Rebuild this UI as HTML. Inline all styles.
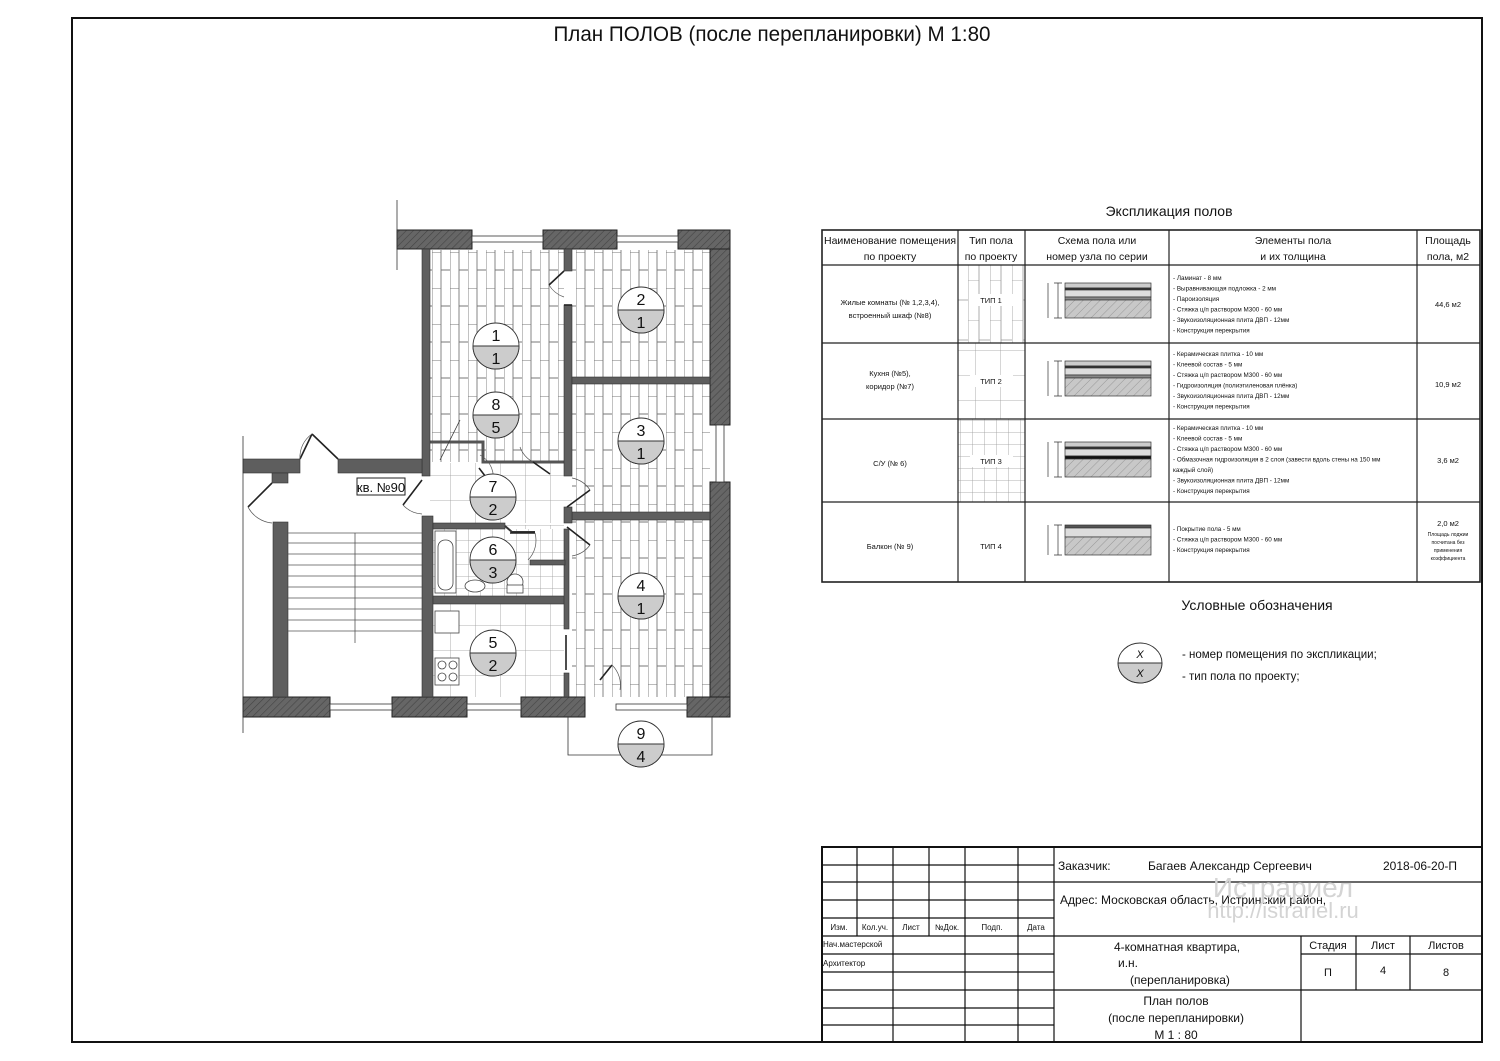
<!DOCTYPE html>
<html><head><meta charset="utf-8"><style>
html,body{margin:0;padding:0;background:#fff}
svg{display:block}
text{font-family:"Liberation Sans",sans-serif;fill:#111}
</style></head><body>
<svg width="1500" height="1061" viewBox="0 0 1500 1061" xmlns="http://www.w3.org/2000/svg">
<defs>
<pattern id="plank" width="18" height="36" patternUnits="userSpaceOnUse">
<rect width="18" height="36" fill="#fff"/>
<path d="M0 0V36M9 0V36M0 0H9M9 18H18" stroke="#777" stroke-width="0.9"/>
</pattern>
<pattern id="tile" width="25" height="25" patternUnits="userSpaceOnUse">
<rect width="25" height="25" fill="#fff"/>
<path d="M0 0H25M0 0V25" stroke="#999" stroke-width="0.8"/>
</pattern>
<pattern id="tiles" width="12" height="12" patternUnits="userSpaceOnUse">
<rect width="12" height="12" fill="#fff"/>
<path d="M0 0H12M0 0V12" stroke="#999" stroke-width="0.8"/>
</pattern>
<pattern id="hatch" width="5" height="5" patternUnits="userSpaceOnUse" patternTransform="rotate(45)">
<rect width="5" height="5" fill="#666"/>
<path d="M0 0V5" stroke="#444" stroke-width="1.2"/>
</pattern>
<pattern id="hatch2" width="6" height="6" patternUnits="userSpaceOnUse" patternTransform="rotate(45)">
<rect width="6" height="6" fill="#c8c8c8"/>
<path d="M0 0V6" stroke="#777" stroke-width="0.6"/>
</pattern>
<pattern id="bplank" width="22" height="40" patternUnits="userSpaceOnUse">
<path d="M0 0V40M11 0V40M0 0H11M11 20H22" stroke="#999" stroke-width="0.8"/>
</pattern>
</defs>

<rect x="72" y="18" width="1410" height="1024" fill="none" stroke="#111" stroke-width="2"/>
<text x="772" y="41" font-size="21" text-anchor="middle" textLength="437" lengthAdjust="spacingAndGlyphs">План ПОЛОВ (после перепланировки) М 1:80</text>

<rect x="430" y="250" width="134" height="212" fill="url(#plank)"/>
<rect x="572" y="250" width="138" height="127" fill="url(#plank)"/>
<rect x="572" y="384" width="138" height="128" fill="url(#plank)"/>
<rect x="572" y="520" width="138" height="177" fill="url(#plank)"/>
<rect x="430" y="463" width="142" height="60" fill="url(#tile)"/>
<rect x="505" y="525" width="59" height="70" fill="url(#tile)"/>
<rect x="433" y="529" width="131" height="67" fill="url(#tiles)"/>
<rect x="433" y="604" width="131" height="93" fill="url(#tile)"/>
<rect x="430" y="442" width="52" height="20" fill="url(#plank)"/>
<path d="M430 442H483V462H564" fill="none" stroke="#555" stroke-width="3"/>
<path d="M440 460L460 420" stroke="#333" stroke-width="0.8"/>

<g stroke="#222" stroke-width="1">
<rect x="397" y="230" width="75" height="19" fill="url(#hatch)"/>
<rect x="543" y="230" width="74" height="19" fill="url(#hatch)"/>
<rect x="678" y="230" width="52" height="19" fill="url(#hatch)"/>
<rect x="710" y="249" width="20" height="176" fill="url(#hatch)"/>
<rect x="710" y="482" width="20" height="215" fill="url(#hatch)"/>
<rect x="243" y="697" width="87" height="20" fill="url(#hatch)"/>
<rect x="392" y="697" width="75" height="20" fill="url(#hatch)"/>
<rect x="521" y="697" width="64" height="20" fill="url(#hatch)"/>
<rect x="687" y="697" width="43" height="20" fill="url(#hatch)"/>
</g>
<g fill="#fff" stroke="#333" stroke-width="0.8">
<rect x="472" y="236" width="71" height="6"/>
<rect x="617" y="236" width="61" height="6"/>
<rect x="716" y="425" width="8" height="57"/>
<rect x="330" y="704" width="62" height="6"/>
<rect x="467" y="704" width="54" height="6"/>
<rect x="616" y="704" width="71" height="6"/>
</g>
<g fill="#5e5e5e" stroke="#333" stroke-width="0.6">
<rect x="422" y="249" width="8" height="227"/>
<rect x="422" y="516" width="11" height="181"/>
<rect x="243" y="459" width="57" height="14"/>
<rect x="338" y="459" width="84" height="14"/>
<rect x="272" y="473" width="16" height="10"/>
<rect x="273" y="522" width="15" height="175"/>
<rect x="564" y="249" width="8" height="22"/>
<rect x="564" y="305" width="8" height="171"/>
<rect x="572" y="377" width="138" height="7"/>
<rect x="572" y="512" width="138" height="8"/>
<rect x="564" y="507" width="8" height="16"/>
<rect x="433" y="523" width="72" height="6"/>
<rect x="433" y="596" width="135" height="8"/>
<rect x="564" y="529" width="5" height="100"/>
<rect x="564" y="673" width="5" height="24"/>
<rect x="530" y="560" width="35" height="5"/>
</g>
<path d="M505 526L512 532H535" stroke="#333" stroke-width="2" fill="none"/>
<g stroke="#555" stroke-width="0.8">
<path d="M288 533H422M288 543H422M288 554H422M288 565H422M288 576H422M288 587H422M288 598H422M288 609H422M288 620H422M288 631H422"/>
<path d="M355 533V643"/>
</g>
<path d="M397 200V270M243 436V733" stroke="#333" stroke-width="0.8"/>
<path d="M568 717V755H712V717" fill="none" stroke="#333" stroke-width="0.8"/>
<g fill="none" stroke="#222" stroke-width="1.6">
<path d="M300 459L312 434"/><path d="M338 459L312 434"/>
<path d="M272 483L248 507"/>
<path d="M422 480L403 505"/>
<path d="M564 271L549 285"/>
<path d="M564 305L572 305"/>
<path d="M479 468L492 485"/>
<path d="M533 462L550 474"/>
<path d="M567 507L590 490"/>
<path d="M567 527L590 545"/>
<path d="M600 680L612 665"/>
<path d="M566 635V670"/>
<path d="M510 533H535"/>
</g>
<g fill="none" stroke="#555" stroke-width="0.7">
<path d="M312 434A28 28 0 0 0 300 459"/>
<path d="M248 507A30 30 0 0 0 272 523"/>
<path d="M403 505A28 28 0 0 0 422 514"/>
<path d="M549 285A28 28 0 0 0 564 297"/>
<path d="M492 485A25 25 0 0 0 480 455"/>
<path d="M533 462A28 28 0 0 1 520 447"/>
<path d="M590 490A28 28 0 0 0 572 478"/>
<path d="M590 545A28 28 0 0 1 572 556"/>
<path d="M612 665A28 28 0 0 1 620 690"/>
<path d="M535 533A28 28 0 0 1 528 560"/>
</g>
<g fill="#fff" stroke="#444" stroke-width="0.8">
<rect x="435" y="531" width="21" height="62"/>
<rect x="438" y="540" width="15" height="50" rx="7"/>
<ellipse cx="475" cy="586" rx="10" ry="6"/>
<ellipse cx="515" cy="582" rx="8" ry="8"/>
<rect x="507" y="585" width="16" height="8"/>
<rect x="435" y="611" width="24" height="22"/>
<rect x="435" y="658" width="24" height="27"/>
<circle cx="442" cy="665" r="4"/><circle cx="453" cy="665" r="4"/><circle cx="442" cy="677" r="4"/><circle cx="453" cy="677" r="4"/>
</g>
<rect x="357" y="478" width="48" height="17" fill="#fff" stroke="#222" stroke-width="1"/>
<text x="381" y="492" font-size="13" text-anchor="middle">кв. №90</text>

<g stroke="#333" stroke-width="0.9" font-size="16">
<g transform="translate(496,346)"><ellipse rx="23" ry="23" fill="#fff"/><path d="M-23 0A23 23 0 0 0 23 0Z" fill="#ccc"/><path d="M-23 0H23"/><text y="-5" text-anchor="middle" stroke="none">1</text><text y="18" text-anchor="middle" stroke="none">1</text></g>
<g transform="translate(641,310)"><ellipse rx="23" ry="23" fill="#fff"/><path d="M-23 0A23 23 0 0 0 23 0Z" fill="#ccc"/><path d="M-23 0H23"/><text y="-5" text-anchor="middle" stroke="none">2</text><text y="18" text-anchor="middle" stroke="none">1</text></g>
<g transform="translate(496,415)"><ellipse rx="23" ry="23" fill="#fff"/><path d="M-23 0A23 23 0 0 0 23 0Z" fill="#ccc"/><path d="M-23 0H23"/><text y="-5" text-anchor="middle" stroke="none">8</text><text y="18" text-anchor="middle" stroke="none">5</text></g>
<g transform="translate(641,441)"><ellipse rx="23" ry="23" fill="#fff"/><path d="M-23 0A23 23 0 0 0 23 0Z" fill="#ccc"/><path d="M-23 0H23"/><text y="-5" text-anchor="middle" stroke="none">3</text><text y="18" text-anchor="middle" stroke="none">1</text></g>
<g transform="translate(493,497)"><ellipse rx="23" ry="23" fill="#fff"/><path d="M-23 0A23 23 0 0 0 23 0Z" fill="#ccc"/><path d="M-23 0H23"/><text y="-5" text-anchor="middle" stroke="none">7</text><text y="18" text-anchor="middle" stroke="none">2</text></g>
<g transform="translate(493,560)"><ellipse rx="23" ry="23" fill="#fff"/><path d="M-23 0A23 23 0 0 0 23 0Z" fill="#ccc"/><path d="M-23 0H23"/><text y="-5" text-anchor="middle" stroke="none">6</text><text y="18" text-anchor="middle" stroke="none">3</text></g>
<g transform="translate(641,596)"><ellipse rx="23" ry="23" fill="#fff"/><path d="M-23 0A23 23 0 0 0 23 0Z" fill="#ccc"/><path d="M-23 0H23"/><text y="-5" text-anchor="middle" stroke="none">4</text><text y="18" text-anchor="middle" stroke="none">1</text></g>
<g transform="translate(493,653)"><ellipse rx="23" ry="23" fill="#fff"/><path d="M-23 0A23 23 0 0 0 23 0Z" fill="#ccc"/><path d="M-23 0H23"/><text y="-5" text-anchor="middle" stroke="none">5</text><text y="18" text-anchor="middle" stroke="none">2</text></g>
<g transform="translate(641,744)"><ellipse rx="23" ry="23" fill="#fff"/><path d="M-23 0A23 23 0 0 0 23 0Z" fill="#ccc"/><path d="M-23 0H23"/><text y="-5" text-anchor="middle" stroke="none">9</text><text y="18" text-anchor="middle" stroke="none">4</text></g>
</g>

<text x="1169" y="216" font-size="14" text-anchor="middle">Экспликация полов</text>
<rect x="958" y="265" width="67" height="78" fill="url(#bplank)"/>
<rect x="958" y="343" width="67" height="76" fill="url(#tile)"/>
<rect x="958" y="419" width="67" height="83" fill="url(#tiles)"/>
<g fill="#fff"><rect x="970" y="294" width="43" height="12"/><rect x="970" y="375" width="43" height="12"/><rect x="970" y="455" width="43" height="12"/></g>
<g fill="none" stroke="#222" stroke-width="1.2">
<rect x="822" y="230" width="658" height="352" stroke-width="1.6"/>
<path d="M958 230V582M1025 230V582M1169 230V582M1417 230V582"/>
<path d="M822 265H1480M822 343H1480M822 419H1480M822 502H1480"/>
</g>
<g font-size="10.5" text-anchor="middle">
<text x="890" y="244">Наименование помещения</text><text x="890" y="260">по проекту</text>
<text x="991" y="244">Тип пола</text><text x="991" y="260">по проекту</text>
<text x="1097" y="244">Схема пола или</text><text x="1097" y="260">номер узла по серии</text>
<text x="1293" y="244">Элементы пола</text><text x="1293" y="260">и их толщина</text>
<text x="1448" y="244">Площадь</text><text x="1448" y="260">пола, м2</text>
</g>
<g font-size="7.5" text-anchor="middle">
<text x="890" y="305">Жилые комнаты (№ 1,2,3,4),</text><text x="890" y="318">встроенный шкаф (№8)</text>
<text x="890" y="376">Кухня (№5),</text><text x="890" y="389">коридор (№7)</text>
<text x="890" y="466">С/У (№ 6)</text>
<text x="890" y="549">Балкон (№ 9)</text>
<text x="991" y="303">ТИП 1</text><text x="991" y="384">ТИП 2</text><text x="991" y="464">ТИП 3</text><text x="991" y="549">ТИП 4</text>
<text x="1448" y="307">44,6 м2</text><text x="1448" y="387">10,9 м2</text><text x="1448" y="463">3,6 м2</text>
<text x="1448" y="526">2,0 м2</text>
</g>
<g font-size="5" text-anchor="middle"><text x="1448" y="536">Площадь лоджии</text><text x="1448" y="544">посчитана без</text><text x="1448" y="552">применения</text><text x="1448" y="560">коэффициента</text></g>
<g font-size="6.3">
<text x="1173" y="280">- Ламинат - 8 мм</text><text x="1173" y="290.5">- Выравнивающая подложка - 2 мм</text><text x="1173" y="301">- Пароизоляция</text><text x="1173" y="311.5">- Стяжка ц/п раствором М300 - 60 мм</text><text x="1173" y="322">- Звукоизоляционная плита ДВП - 12мм</text><text x="1173" y="332.5">- Конструкция перекрытия</text>
<text x="1173" y="356">- Керамическая плитка - 10 мм</text><text x="1173" y="366.5">- Клеевой состав - 5 мм</text><text x="1173" y="377">- Стяжка ц/п раствором М300 - 60 мм</text><text x="1173" y="387.5">- Гидроизоляция (полиэтиленовая плёнка)</text><text x="1173" y="398">- Звукоизоляционная плита ДВП - 12мм</text><text x="1173" y="408.5">- Конструкция перекрытия</text>
<text x="1173" y="430">- Керамическая плитка - 10 мм</text><text x="1173" y="440.5">- Клеевой состав - 5 мм</text><text x="1173" y="451">- Стяжка ц/п раствором М300 - 60 мм</text><text x="1173" y="461.5">- Обмазочная гидроизоляция в 2 слоя (завести вдоль стены на 150 мм</text><text x="1173" y="472">каждый слой)</text><text x="1173" y="482.5">- Звукоизоляционная плита ДВП - 12мм</text><text x="1173" y="493">- Конструкция перекрытия</text>
<text x="1173" y="531">- Покрытие пола - 5 мм</text><text x="1173" y="541.5">- Стяжка ц/п раствором М300 - 60 мм</text><text x="1173" y="552">- Конструкция перекрытия</text>
</g>
<g stroke="#333" stroke-width="0.7">
<g>
<rect x="1065" y="283" width="86" height="5" fill="#ccc"/><rect x="1065" y="288" width="86" height="2" fill="#333"/><rect x="1065" y="290" width="86" height="7" fill="#ddd"/><rect x="1065" y="297" width="86" height="3" fill="#888"/><rect x="1065" y="300" width="86" height="18" fill="url(#hatch2)"/>
<path d="M1058 283V318M1054 283H1062M1054 318H1062M1048 283V318"/>
</g>
<g transform="translate(0,78)">
<rect x="1065" y="283" width="86" height="5" fill="#ccc"/><rect x="1065" y="288" width="86" height="2" fill="#333"/><rect x="1065" y="290" width="86" height="7" fill="#ddd"/><rect x="1065" y="297" width="86" height="3" fill="#888"/><rect x="1065" y="300" width="86" height="18" fill="url(#hatch2)"/>
<path d="M1058 283V318M1054 283H1062M1054 318H1062M1048 283V318"/>
</g>
<g transform="translate(0,159)">
<rect x="1065" y="283" width="86" height="5" fill="#ccc"/><rect x="1065" y="288" width="86" height="2" fill="#333"/><rect x="1065" y="290" width="86" height="7" fill="#ddd"/><rect x="1065" y="297" width="86" height="3" fill="#111"/><rect x="1065" y="300" width="86" height="18" fill="url(#hatch2)"/>
<path d="M1058 283V318M1054 283H1062M1054 318H1062M1048 283V318"/>
</g>
<rect x="1065" y="525" width="86" height="3" fill="#555"/><rect x="1065" y="528" width="86" height="9" fill="#ddd"/><rect x="1065" y="537" width="86" height="18" fill="url(#hatch2)"/>
<path d="M1058 525V555M1054 525H1062M1054 555H1062M1048 525V555"/>
</g>

<text x="1257" y="610" font-size="14" text-anchor="middle">Условные обозначения</text>
<g transform="translate(1140,663)" stroke="#333" stroke-width="0.9"><ellipse rx="22" ry="20" fill="#fff"/><path d="M-22 0A22 20 0 0 0 22 0Z" fill="#ccc"/><path d="M-22 0H22"/><text y="-5" font-size="11" text-anchor="middle" stroke="none" font-style="italic">X</text><text y="14" font-size="11" text-anchor="middle" stroke="none" font-style="italic">X</text></g>
<text x="1182" y="658" font-size="11.5">- номер помещения по экспликации;</text>
<text x="1182" y="680" font-size="11.5">- тип пола по проекту;</text>

<g fill="none" stroke="#111" stroke-width="1.2">
<rect x="822" y="847" width="660" height="195" stroke-width="2"/>
<path d="M822 865H1054M822 882H1054M822 900H1054M822 918H1054M822 936H1482M822 954H1054M822 972H1054M822 990H1482M822 1008H1054M822 1025H1054"/>
<path d="M857 847V936M893 847V1042M929 847V936M965 847V1042M1018 847V1042M1054 847V1042"/>
<path d="M1054 882H1482M1301 936V990M1356 936V990M1410 936V990M1301 954H1482M1301 990V1042"/>
</g>
<g font-size="8" text-anchor="middle">
<text x="839" y="930">Изм.</text><text x="875" y="930">Кол.уч.</text><text x="911" y="930">Лист</text><text x="947" y="930">№Док.</text><text x="992" y="930">Подп.</text><text x="1036" y="930">Дата</text>
</g>
<text x="823" y="947" font-size="8">Нач.мастерской</text>
<text x="823" y="966" font-size="8">Архитектор</text>
<g font-size="12">
<text x="1058" y="870">Заказчик:</text>
<text x="1148" y="870">Багаев Александр Сергеевич</text>
<text x="1383" y="870">2018-06-20-П</text>
<text x="1060" y="904">Адрес: Московская область, Истринский район,</text>
<text x="1177" y="951" text-anchor="middle">4-комнатная квартира,</text>
<text x="1118" y="967">и.н.</text>
<text x="1130" y="984">(перепланировка)</text>
<text x="1176" y="1005" text-anchor="middle">План полов</text>
<text x="1176" y="1022" text-anchor="middle">(после перепланировки)</text>
<text x="1176" y="1039" text-anchor="middle">М 1 : 80</text>
</g>
<g font-size="11" text-anchor="middle">
<text x="1328" y="949">Стадия</text><text x="1383" y="949">Лист</text><text x="1446" y="949">Листов</text>
<text x="1328" y="976">П</text><text x="1383" y="974">4</text><text x="1446" y="976">8</text>
</g>
<text x="1283" y="897" font-size="28" style="fill:#d4d4d4" text-anchor="middle">Истрариел</text>
<text x="1283" y="918" font-size="22" style="fill:#d4d4d4" text-anchor="middle">http://istrariel.ru</text>
</svg>
</body></html>
